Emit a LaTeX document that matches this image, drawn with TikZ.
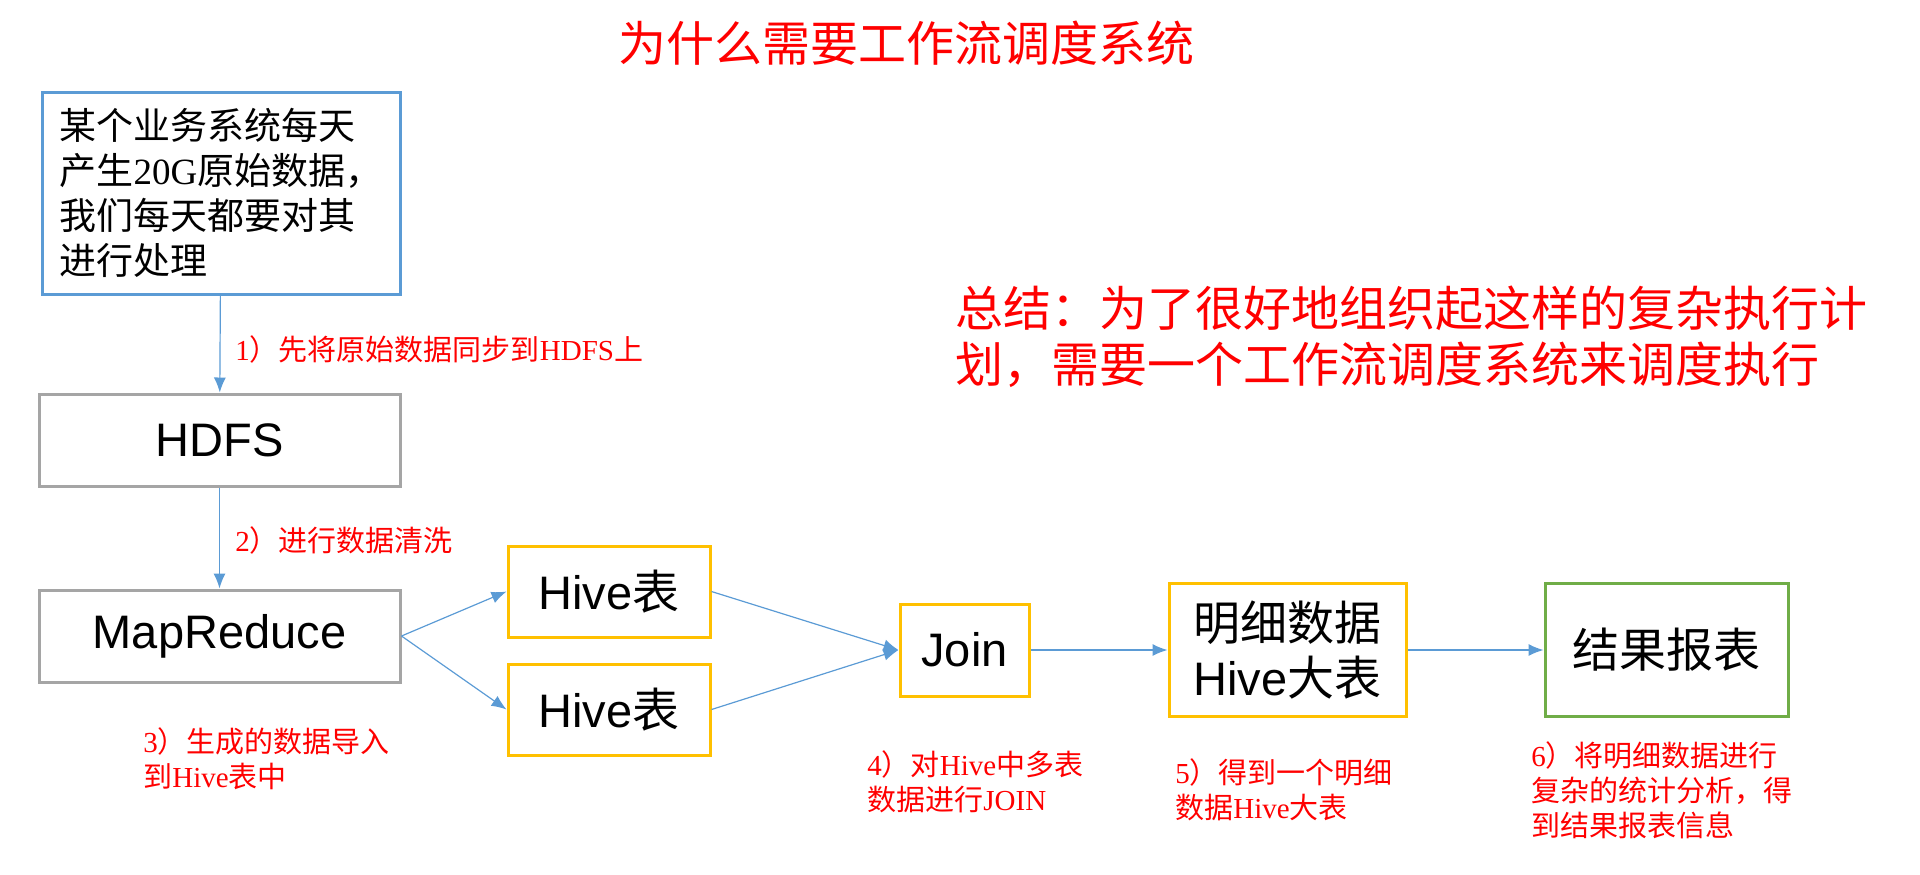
\documentclass[tikz,border=0pt]{standalone}
\usepackage{fontspec}
\setmainfont{Noto Sans CJK SC}
\newfontfamily\arialfont{Liberation Sans}
\newfontfamily\romanfont{Liberation Serif}
\newcommand{\ar}[1]{{\arialfont #1}}
\newcommand{\rmn}[1]{{\romanfont #1}}
\usetikzlibrary{arrows.meta}
\definecolor{boxblue}{HTML}{5B9BD5}
\definecolor{boxgray}{HTML}{A5A5A5}
\definecolor{boxyellow}{HTML}{FFC000}
\definecolor{boxgreen}{HTML}{70AD47}
\definecolor{arrowblue}{HTML}{5B9BD5}
\begin{document}
\begin{tikzpicture}[x=0.5pt, y=-0.5pt,
    box/.style={draw, line width=1.5pt, inner sep=0pt, align=center,
        font=\fontsize{23.5pt}{27.5pt}\selectfont},
    flow/.style={-{Latex[length=7.5pt,width=6pt]}, line width=0.6pt, arrowblue},
    note/.style={red, anchor=west, align=left, inner sep=0pt,
        font=\fontsize{14.5pt}{17.5pt}\selectfont},
    headline/.style={red, inner sep=0pt, font=\fontsize{24pt}{28pt}\selectfont}]

    \useasboundingbox (0,0) rectangle (1920,874);

    % Title and summary
    \node[headline] (title) at (906,43) {为什么需要工作流调度系统};
    \node[headline, anchor=west, align=left] (summary) at (955,337)
        {总结：为了很好地组织起这样的复杂执行计\\划，需要一个工作流调度系统来调度执行};

    % Source system
    \node[box, draw=boxblue, minimum width=179pt, minimum height=101pt, align=left,
        font=\fontsize{18.5pt}{22.5pt}\selectfont] (src) at (221,193)
        {某个业务系统每天\\产生\rmn{20G}原始数据，\\我们每天都要对其\\进行处理};

    % Processing chain
    \node[box, draw=boxgray, minimum width=180.5pt, minimum height=46pt] (hdfs) at (219.5,440) {\ar{HDFS}};
    \node[box, draw=boxgray, minimum width=180.5pt, minimum height=46pt] (mr) at (219.5,636) {\ar{MapReduce}};
    \node[box, draw=boxyellow, minimum width=101pt, minimum height=45.5pt] (hiveA) at (609,591.5) {\ar{Hive}表};
    \node[box, draw=boxyellow, minimum width=101pt, minimum height=45.5pt] (hiveB) at (609,709.5) {\ar{Hive}表};
    \node[box, draw=boxyellow, minimum width=64.5pt, minimum height=46pt] (join) at (964.5,650) {\ar{Join}};
    \node[box, draw=boxyellow, minimum width=118.5pt, minimum height=66.5pt] (detail) at (1287.5,650) {明细数据\\\ar{Hive}大表};
    \node[box, draw=boxgreen, minimum width=121.5pt, minimum height=66.5pt] (result) at (1666.5,650) {结果报表};

    % Connectors
    \draw[flow] (src) -- (hdfs);
    \draw[flow] (hdfs) -- (mr);
    \draw[flow] (mr.east) -- (hiveA.west);
    \draw[flow] (mr.east) -- (hiveB.west);
    \draw[flow] (hiveA.east) -- (join.west);
    \draw[flow] (hiveB.east) -- (join.west);
    \draw[flow] (join) -- (detail);
    \draw[flow] (detail) -- (result);

    % Step notes
    \node[note] (step1) at (235,349) {\rmn{1}）先将原始数据同步到\rmn{HDFS}上};
    \node[note] (step2) at (235,540) {\rmn{2}）进行数据清洗};
    \node[note] (step3) at (143,759) {\rmn{3}）生成的数据导入\\到\rmn{Hive}表中};
    \node[note] (step4) at (867,782) {\rmn{4}）对\rmn{Hive}中多表\\数据进行\rmn{JOIN}};
    \node[note] (step5) at (1175,790) {\rmn{5}）得到一个明细\\数据\rmn{Hive}大表};
    \node[note] (step6) at (1531,790) {\rmn{6}）将明细数据进行\\复杂的统计分析，得\\到结果报表信息};

\end{tikzpicture}
\end{document}
